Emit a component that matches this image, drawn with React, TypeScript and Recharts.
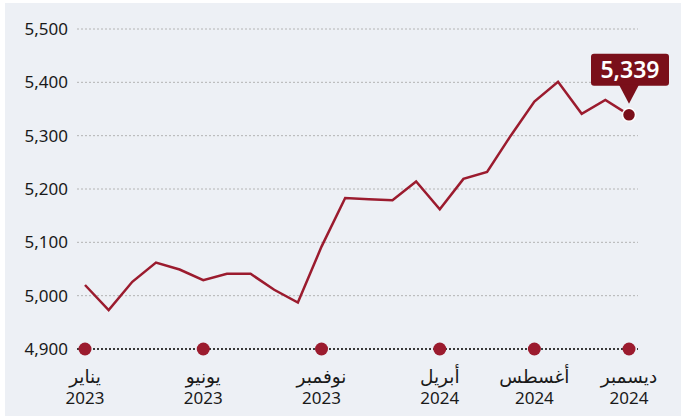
import { LineChart, Line, XAxis, YAxis, ReferenceLine, ReferenceDot } from "recharts";

const months = [
  "2023-01", "2023-02", "2023-03", "2023-04", "2023-05", "2023-06",
  "2023-07", "2023-08", "2023-09", "2023-10", "2023-11", "2023-12",
  "2024-01", "2024-02", "2024-03", "2024-04", "2024-05", "2024-06",
  "2024-07", "2024-08", "2024-09", "2024-10", "2024-11", "2024-12",
];
const values = [
  5020, 4973, 5026, 5062, 5049, 5029, 5041, 5041, 5011, 4987, 5092, 5183,
  5181, 5179, 5214, 5162, 5219, 5232, 5300, 5364, 5401, 5341, 5367, 5339,
];
const tickIndexes = [0, 5, 10, 15, 19, 23];
const tickMonthNames = ["يناير", "يونيو", "نوفمبر", "أبريل", "أغسطس", "ديسمبر"];
const tickYears = ["2023", "2023", "2023", "2024", "2024", "2024"];
const yTicks = [4900, 5000, 5100, 5200, 5300, 5400, 5500];
const gridValues = [5000, 5100, 5200, 5300, 5400, 5500];

const data = months.map((m, i) => ({ i, month: m, value: values[i] }));

const RED = "#9b1b2e";
const DARK_RED = "#7a0f1a";
const FONT = "'Noto Sans', 'DejaVu Sans', sans-serif";

function MonthTick(props: any) {
  const { x, y, payload } = props;
  const k = tickIndexes.indexOf(payload.value);
  if (k < 0) return null;
  return (
    <g>
      <text x={x} y={y + 26} textAnchor="middle" fontSize={18.5} fill="#1a1a1a" fontFamily={FONT}>
        {tickMonthNames[k]}
      </text>
      <text x={x} y={y + 47} textAnchor="middle" fontSize={17} fill="#1a1a1a" fontFamily={FONT}>
        {tickYears[k]}
      </text>
    </g>
  );
}

function LastDot(props: any) {
  const { cx, cy, index, payload } = props;
  if (index !== values.length - 1) return <g key={index} />;
  const bx = cx - 38;
  const by = cy - 61;
  return (
    <g key={index}>
      <rect x={bx} y={by} width={78} height={32} rx={3} fill={DARK_RED} />
      <path d={`M${cx - 10},${by + 31} L${cx + 10},${by + 31} L${cx},${cy - 11} Z`} fill={DARK_RED} />
      <text
        x={cx + 1}
        y={by + 24}
        textAnchor="middle"
        fontSize={23}
        fontWeight={600}
        fill="#ffffff"
        fontFamily={FONT}
      >
        {payload.value.toLocaleString("en-US")}
      </text>
      <circle cx={cx} cy={cy} r={6.5} fill={DARK_RED} stroke="#ffffff" strokeWidth={1.5} />
    </g>
  );
}

export default function App() {
  return (
    <div style={{ position: "absolute", left: 0, top: 0, width: 681, height: 416, background: "#ffffff" }}>
      <div style={{ position: "absolute", left: 5, top: 3, width: 676, height: 413, background: "#edf0f5" }} />
      <div style={{ position: "absolute", left: 0, top: 0 }}>
        <LineChart
          width={681}
          height={416}
          data={data}
          margin={{ top: 29, right: 43, bottom: 0, left: 0 }}
        >
          <XAxis
            dataKey="i"
            type="number"
            domain={[0, 23]}
            ticks={tickIndexes}
            padding={{ left: 8, right: 9 }}
            axisLine={false}
            tickLine={false}
            tick={<MonthTick />}
            interval={0}
            height={67}
          />
          <YAxis
            domain={[4900, 5500]}
            ticks={yTicks}
            width={77}
            axisLine={false}
            tickLine={false}
            tickSize={0}
            tickMargin={9}
            tickFormatter={(v: number) => v.toLocaleString("en-US")}
            tick={{ fill: "#1a1a1a", fontSize: 17, fontFamily: FONT }}
          />
          {gridValues.map((v) => (
            <ReferenceLine key={v} y={v} stroke="#b4b4b4" strokeDasharray="2 2" strokeWidth={1} />
          ))}
          <ReferenceLine y={4900} stroke="#3a3a3a" strokeDasharray="2 2" strokeWidth={2} />
          {tickIndexes.map((t) => (
            <ReferenceDot key={t} x={t} y={4900} r={6.5} fill={RED} stroke="none" />
          ))}
          <Line
            type="linear"
            dataKey="value"
            stroke={RED}
            strokeWidth={2.5}
            dot={<LastDot />}
            activeDot={false}
            isAnimationActive={false}
          />
        </LineChart>
      </div>
    </div>
  );
}
